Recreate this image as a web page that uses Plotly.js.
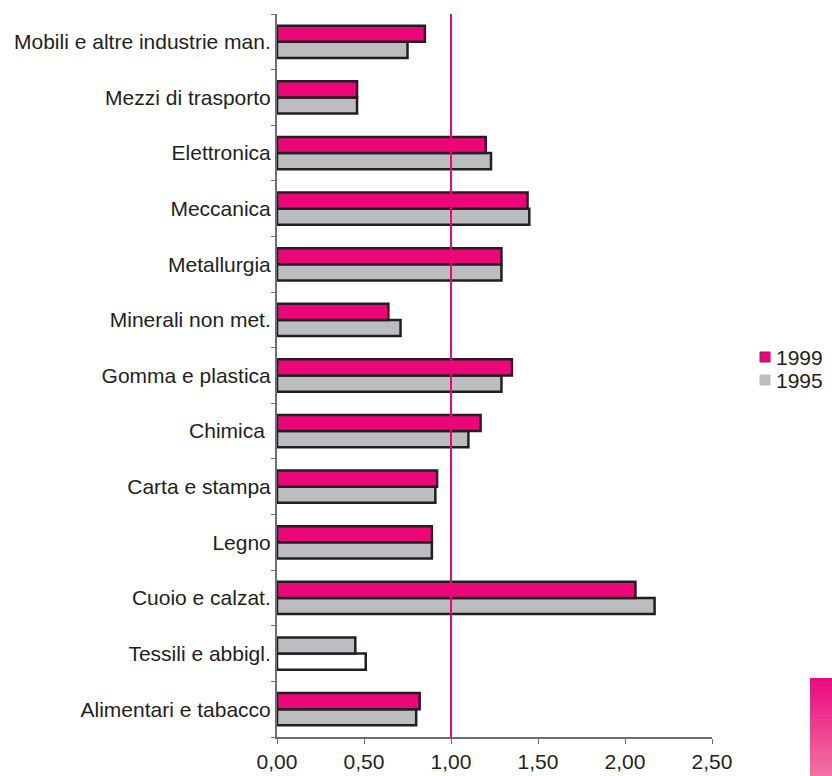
<!DOCTYPE html>
<html>
<head>
<meta charset="utf-8">
<script src="https://cdn.plot.ly/plotly-3.0.1.min.js"></script>
<style>html,body{margin:0;padding:0;background:#fff;}#chart{width:832px;height:776px;}</style>
</head>
<body>
<div id="chart"></div>
<script>
// Categories (bottom to top)
var categories = [
  "Alimentari e tabacco",
  "Tessili e abbigl.",
  "Cuoio e calzat.",
  "Legno",
  "Carta e stampa",
  "Chimica ",
  "Gomma e plastica",
  "Minerali non met.",
  "Metallurgia",
  "Meccanica",
  "Elettronica",
  "Mezzi di trasporto",
  "Mobili e altre industrie man."
];
var values1999 = [0.82, 0.45, 2.06, 0.89, 0.92, 1.17, 1.35, 0.64, 1.29, 1.44, 1.20, 0.46, 0.85];
var values1995 = [0.80, 0.51, 2.17, 0.89, 0.91, 1.10, 1.29, 0.71, 1.29, 1.45, 1.23, 0.46, 0.75];
var seriesNames = ["1999", "1995"];
var xTicks = [0, 0.5, 1, 1.5, 2, 2.5];
var referenceValue = 1.0;

var MAGENTA = "#ec0677";
var GREY = "#bcbdc0";
var OUTLINE = "#231f20";
var FONT = "Liberation Sans";
var FS = 21;

// per-bar colours (the Tessili group is drawn grey / white in the original)
var colors1999 = categories.map(function(c){ return c === "Tessili e abbigl." ? GREY : MAGENTA; });
var colors1995 = categories.map(function(c){ return c === "Tessili e abbigl." ? "#ffffff" : GREY; });

var traces = [
  {
    type: "bar", orientation: "h", name: seriesNames[1],
    y: categories, x: values1995,
    marker: {color: colors1995, line: {color: OUTLINE, width: 2.5}}
  },
  {
    type: "bar", orientation: "h", name: seriesNames[0],
    y: categories, x: values1999,
    marker: {color: colors1999, line: {color: OUTLINE, width: 2.5}}
  }
];

var px = function(v){ return (v - 277) / 435; };
var py = function(v){ return (737 - v) / 723; };

var shapes = [{
  type: "line", xref: "x", yref: "paper",
  x0: referenceValue, x1: referenceValue, y0: 0, y1: 1,
  line: {color: MAGENTA, width: 2}, layer: "above"
}];

// key: small squares + labels
var keyColors = [MAGENTA, GREY];
var keyLines = ["#b0104f", GREY];
var keyY = [357, 380];
var annotations = [];
seriesNames.forEach(function(name, k){
  shapes.push({
    type: "rect", xref: "paper", yref: "paper",
    x0: px(760), x1: px(770), y0: py(keyY[k] + 5), y1: py(keyY[k] - 5),
    fillcolor: keyColors[k], line: {color: keyLines[k], width: 1}
  });
  annotations.push({
    xref: "paper", yref: "paper", x: px(774), y: py(keyY[k]),
    xanchor: "left", yanchor: "middle", showarrow: false,
    text: name, font: {family: FONT, size: FS, color: "#231f20"}
  });
});

// decorative gradient strip bottom-right
var steps = 24;
for (var i = 0; i < steps; i++) {
  var t = i / (steps - 1);
  var r = Math.round(236 + (242 - 236) * t);
  var g = Math.round(10 + (115 - 10) * t);
  var b = Math.round(127 + (162 - 127) * t);
  shapes.push({
    type: "rect", xref: "paper", yref: "paper",
    x0: px(810), x1: px(833),
    y0: py(678 + (99 / steps) * (i + 1) + 0.6),
    y1: py(678 + (99 / steps) * i),
    fillcolor: "rgb(" + r + "," + g + "," + b + ")",
    line: {width: 0}
  });
}

var layout = {
  width: 832, height: 776,
  margin: {l: 277, r: 120, t: 14, b: 39, autoexpand: false},
  paper_bgcolor: "#ffffff", plot_bgcolor: "#ffffff",
  barmode: "group", bargap: 0.42, bargroupgap: 0,
  separators: ",.",
  showlegend: false,
  font: {family: FONT, size: FS, color: "#231f20"},
  xaxis: {
    range: [0, 2.5], tickvals: xTicks, tickformat: ".2f",
    showgrid: false, zeroline: false,
    showline: true, linecolor: "#6d6e71", linewidth: 2,
    ticks: "outside", ticklen: 5, tickcolor: "#6d6e71", tickwidth: 1,
    tickfont: {family: FONT, size: FS, color: "#231f20"},
    fixedrange: true
  },
  yaxis: {
    type: "category", showgrid: false, zeroline: false,
    showline: true, linecolor: "#6d6e71", linewidth: 2,
    ticks: "outside", tickson: "boundaries", ticklen: 4, tickcolor: "#6d6e71", tickwidth: 1,
    tickfont: {family: FONT, size: FS, color: "#231f20"},
    fixedrange: true
  },
  shapes: shapes,
  annotations: annotations
};

Plotly.newPlot("chart", traces, layout, {displayModeBar: false, staticPlot: true});
</script>
</body>
</html>
